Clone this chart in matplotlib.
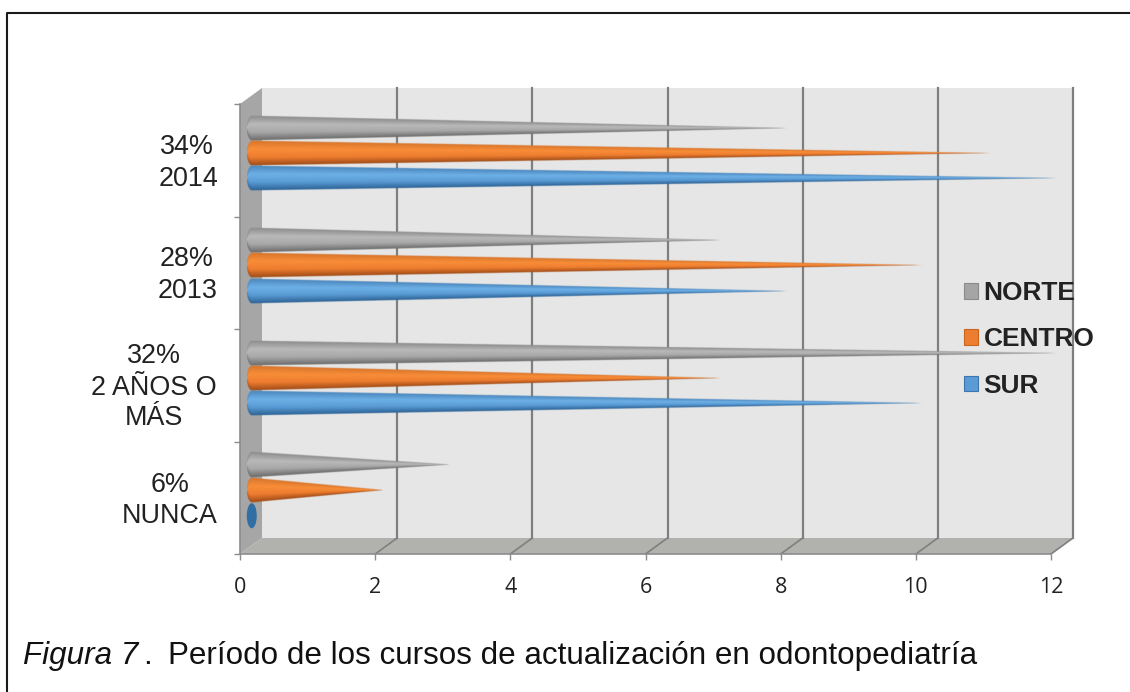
import numpy as np
import matplotlib
matplotlib.use('Agg')
import matplotlib.pyplot as plt
from matplotlib.colors import LinearSegmentedColormap
from matplotlib.lines import Line2D
from matplotlib.patches import Ellipse, Patch, Polygon

# Data
categories = ['NUNCA', '2 AÑOS O MÁS', '2013', '2014']
series_names = ['SUR', 'CENTRO', 'NORTE']
sur = [0, 10, 8, 12]
centro = [2, 7, 10, 11]
norte = [3, 12, 7, 8]
x_ticks = [0, 2, 4, 6, 8, 10, 12]

W, H = 1130, 692
FONT = 'Liberation Sans'
PX_X = 67.58    # pixels per x unit
PX_Y = 112.5    # pixels per category

# 1 - figure and axes, pixel box of the front of the 3D chart
fig = plt.figure(figsize=(W/100, H/100), dpi=100, facecolor='w')
ax = fig.add_axes([240/W, 1-554/H, (1051-240)/W, (554-104)/H])

dx = 22/PX_X   # depth offset in x units
dy = 16/PX_Y   # depth offset in y units

# 2 - walls
ax.add_patch(Polygon([(dx, dy), (12+dx, dy), (12+dx, 4+dy), (dx, 4+dy)], fc='#e6e6e6', ec='none', clip_on=False, zorder=0))
ax.add_patch(Polygon([(0, 0), (dx, dy), (dx, 4+dy), (0, 4)], fc='#a6a6a6', ec='none', clip_on=False, zorder=0.5))
ax.add_patch(Polygon([(0, 0), (12, 0), (12+dx, dy), (dx, dy)], fc='#b1b1ae', ec='none', clip_on=False, zorder=0.5))
for t in x_ticks[1:]:
    ax.plot([t+dx, t+dx], [dy, 4+dy], color='#7f7f7f', lw=1.6, clip_on=False, zorder=1)
    ax.plot([t, t+dx], [0, dy], color='#7f7f7f', lw=1.2, clip_on=False, zorder=1)

# 3 - cones, shaded RGBA images computed from each value
cmaps = {
    'NORTE': LinearSegmentedColormap.from_list('n', ['#8d8d8d', '#b9b9b9', '#a8a8a8', '#6c6c6c']),
    'CENTRO': LinearSegmentedColormap.from_list('c', ['#d8762c', '#f88d38', '#ee7d2f', '#a04c18']),
    'SUR': LinearSegmentedColormap.from_list('s', ['#4b87bd', '#6db0e6', '#5a9bd5', '#2c6396']),
}
offsets = {'NORTE': 0.225, 'CENTRO': 0.0, 'SUR': -0.225}
values = {'NORTE': norte, 'CENTRO': centro, 'SUR': sur}
centre = 0.565
a = 5/PX_X
b = 12.5/PX_Y
x0 = 0.1


def cone_image(v, cmap):
    # half-height of the cone in pixels along x, rounded cap at the base
    nx = int(round(v*PX_X))*2
    ny = 65
    xp = (np.arange(nx)+0.5)/2
    yp = np.linspace(14, -14, ny)
    xg, yg = np.meshgrid(xp, yp)
    a_px = a*PX_X
    b_px = b*PX_Y
    h = b_px*(1-np.maximum(xg-a_px, 0)/(v*PX_X-a_px))
    cap = xg < a_px
    h[cap] = b_px*np.sqrt(np.maximum(1-((a_px-xg[cap])/a_px)**2, 0))
    t = np.clip((1-yg/np.maximum(h, 1e-3))/2, 0, 1)
    rgba = cmap(t)
    rgba[..., 3] = np.clip(h-np.abs(yg)+0.5, 0, 1)*np.minimum(1, 6*h)
    return rgba


for name in ['NORTE', 'CENTRO', 'SUR']:
    for i, v in enumerate(values[name]):
        yc = i + centre + offsets[name]
        if v == 0:
            ax.add_patch(Ellipse((x0+a, yc), 2*a, 2*b, fc='#2f6fa3', ec='none', clip_on=False, zorder=3))
            continue
        ax.imshow(cone_image(v, cmaps[name]), extent=(x0, x0+v, yc-14/PX_Y, yc+14/PX_Y),
                  aspect='auto', interpolation='bilinear', clip_on=False, zorder=3)

ax.set_xlim(0, 12)
ax.set_ylim(0, 4)

# 4 - axes decoration
for s in ['top', 'right']:
    ax.spines[s].set_visible(False)
for s in ['left', 'bottom']:
    ax.spines[s].set_color('#8c8c8c')
    ax.spines[s].set_linewidth(1.2)
    ax.spines[s].set_zorder(2)
ax.set_xticks(x_ticks)
ax.set_yticks([0, 1, 2, 3, 4])
ax.set_yticklabels([])
ax.tick_params(axis='x', length=4.5, width=1, color='#8c8c8c', labelsize=15.5, labelcolor='#222222', pad=12)
ax.tick_params(axis='y', length=4.5, width=1, color='#8c8c8c')
for lab in ax.get_xticklabels():
    lab.set_fontfamily('Open Sans')
ax.patch.set_visible(False)

# 5 - category labels, placed line by line as in the original
label_lines = [
    ('34%', 187, 154), ('2014', 188, 186),
    ('28%', 187, 266), ('2013', 188, 298),
    ('32%', 154, 363), ('2 AÑOS O', 154, 395), ('MÁS', 154, 425),
    ('6%', 170, 492), ('NUNCA', 170, 523),
]
for txt, px, py in label_lines:
    fig.text(px/W, 1-py/H, txt, family=FONT, fontsize=19.4, color='#222222', ha='center', va='baseline')

# 6 - legend
handles = [Patch(fc='#a5a5a5', ec='#8a8a8a', lw=0.8, label='NORTE'),
           Patch(fc='#ed7d31', ec='#c8651f', lw=0.8, label='CENTRO'),
           Patch(fc='#5b9bd5', ec='#3d76ad', lw=0.8, label='SUR')]
leg = fig.legend(handles=handles, loc='center left', bbox_to_anchor=(964/W, 1-339.5/H), frameon=False,
                 prop={'family': FONT, 'weight': 'bold', 'size': 18.9}, labelcolor='#222222',
                 handlelength=0.55, handleheight=0.55, handletextpad=0.2, labelspacing=0.85,
                 borderpad=0, borderaxespad=0)
leg.set_zorder(10)

# 7 - caption and outer frame
fig.text(23/W, 1-664/H, 'Figura 7', family=FONT, style='italic', fontsize=22.6, color='#111111', va='baseline')
fig.text(143/W, 1-664/H, '.', family=FONT, fontsize=22.6, color='#111111', va='baseline')
fig.text(168/W, 1-664/H, 'Período de los cursos de actualización en odontopediatría', family=FONT, fontsize=22.6, color='#111111', va='baseline')
fig.add_artist(Line2D([7/W, 7/W, 1], [0, 1-13/H, 1-13/H], transform=fig.transFigure, color='#1a1a1a', lw=1.5))

plt.savefig('out.png', dpi=100, facecolor='w')
